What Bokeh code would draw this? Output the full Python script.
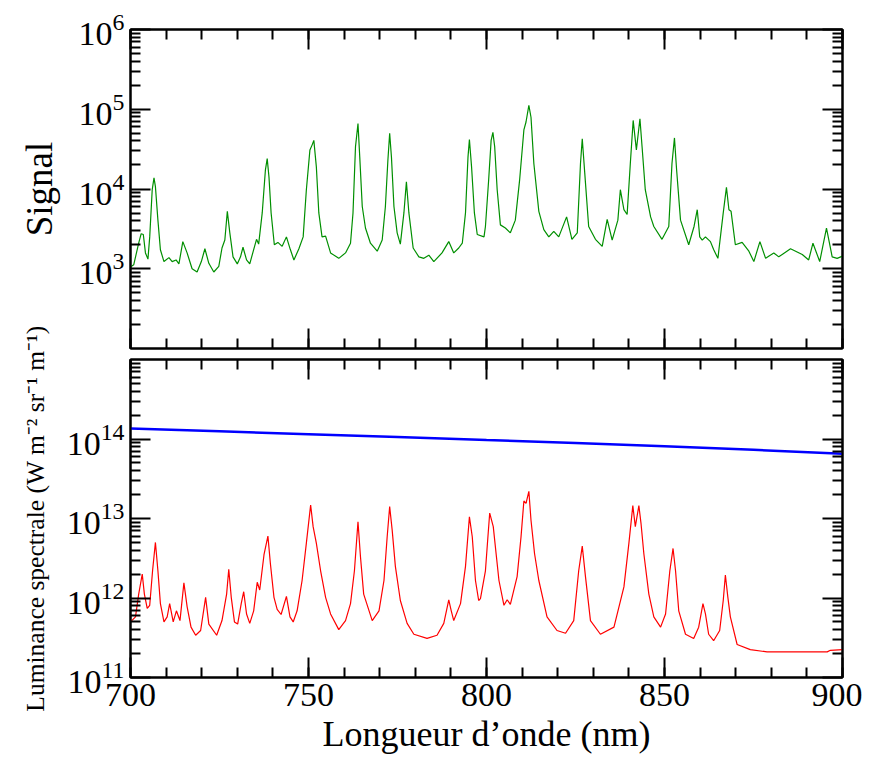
import math
from bokeh.plotting import figure
from bokeh.models import (Range1d, LinearAxis, FixedTicker,
                          SingleIntervalTicker, Label)
from bokeh.layouts import column, row
from bokeh.embed import file_html
from bokeh.resources import INLINE

# ---------------- data ----------------
sig_nm = [700.0, 700.9, 702.3, 703.0, 703.6, 704.2, 704.9, 705.4, 706.1, 706.6,
          707.0, 707.7, 708.4, 709.4, 710.8, 711.7, 712.8, 713.6, 714.7, 715.9,
          717.3, 718.7, 719.9, 720.9, 722.0, 723.4, 724.8, 725.7, 726.5, 727.2,
          727.9, 728.8, 730.0, 730.9, 731.6, 732.6, 733.5, 734.6, 735.4, 736.0,
          737.0, 737.9, 738.4, 738.9, 739.5, 740.4, 741.4, 742.6, 743.8, 744.9,
          745.9, 747.3, 748.5, 749.4, 750.4, 751.0, 751.5, 752.2, 752.9, 753.8,
          754.8, 756.2, 758.5, 760.4, 761.8, 762.5, 763.2, 763.9, 764.4, 765.1,
          766.0, 767.4, 769.3, 770.7, 771.6, 772.3, 772.8, 773.3, 774.0, 774.9,
          775.8, 776.8, 777.5, 778.2, 779.4, 781.0, 782.4, 783.8, 785.2, 787.5,
          789.4, 790.8, 792.2, 793.2, 794.1, 794.8, 795.2, 795.8, 796.6, 797.4,
          799.3, 799.7, 800.6, 801.3, 801.8, 802.3, 803.0, 803.9, 805.3, 806.7,
          808.1, 809.3, 810.5, 811.1, 811.9, 812.5, 813.3, 814.7, 816.1, 817.5,
          818.9, 820.3, 822.5, 824.0, 825.5, 826.4, 826.9, 827.6, 828.7, 830.6,
          832.5, 833.9, 835.3, 836.9, 837.6, 838.6, 839.5, 840.4, 841.2, 842.1,
          843.1, 843.7, 844.6, 846.1, 847.0, 849.3, 851.2, 852.1, 852.8, 853.4,
          854.5, 856.8, 858.3, 859.2, 859.9, 860.6, 861.5, 862.9, 863.8, 865.0,
          866.5, 867.4, 868.1, 868.7, 869.9, 871.8, 873.7, 875.1, 876.8, 878.4,
          880.7, 882.1, 885.4, 888.7, 890.5, 891.7, 893.6, 895.5, 897.1, 898.5,
          900.0]
sig_val = [1050, 1120, 2090, 2750, 2690, 1580, 1320, 2510, 9800, 13800,
           10700, 4070, 1730, 1230, 1380, 1230, 1290, 1150, 2190, 1580,
           1000, 910, 1230, 1780, 1170, 910, 1070, 1820, 2290, 5250,
           2820, 1410, 1150, 1410, 1860, 1290, 1150, 1740, 2340, 2040,
           5010, 17400, 24000, 14100, 5010, 2000, 2140, 1910, 2510, 1740,
           1290, 1780, 2510, 9800, 30900, 35500, 40700, 19100, 5010, 2510,
           2570, 1580, 1350, 1580, 2090, 5010, 33900, 66100, 25100, 6030,
           3240, 2090, 1660, 2290, 6030, 22900, 50100, 25100, 6030, 2820,
           2040, 5010, 12300, 5010, 1820, 1410, 1350, 1480, 1230, 1580,
           2190, 1580, 1820, 2090, 5010, 25100, 41700, 19100, 5010, 2690,
           2510, 3390, 12900, 40700, 51300, 33900, 9800, 3550, 3240, 2820,
           4070, 12900, 55000, 69200, 112000, 79400, 20900, 5250, 3090, 2510,
           2950, 2510, 4470, 2340, 2820, 20900, 42700, 15800, 3390, 2340,
           1910, 4170, 2290, 4070, 9800, 5500, 4790, 20900, 72400, 30900,
           75900, 33900, 9800, 4470, 3390, 2340, 3390, 20900, 43700, 17400,
           4070, 2000, 3390, 5500, 2510, 2290, 2510, 2190, 1740, 1350,
           5010, 10500, 5500, 5250, 2000, 2140, 1660, 1230, 2190, 1350,
           1580, 1410, 1780, 1510, 1290, 2090, 1230, 3240, 1410, 1350,
           1440]

lum_nm = [700.0, 701.4, 702.3, 703.3, 703.9, 704.7, 705.4, 706.2, 707.0, 707.7,
          708.4, 709.4, 710.3, 711.0, 712.0, 712.9, 713.9, 715.0, 715.9, 717.0,
          718.3, 719.7, 721.1, 722.0, 724.2, 725.7, 727.0, 727.6, 728.3, 729.2,
          730.1, 731.1, 731.8, 732.6, 733.5, 734.6, 735.6, 736.3, 737.5, 738.6,
          739.3, 740.3, 741.2, 742.3, 743.8, 744.8, 745.7, 746.8, 748.2, 749.4,
          750.6, 751.3, 752.2, 753.4, 754.8, 756.2, 758.5, 760.4, 761.8, 762.9,
          763.9, 764.6, 765.5, 767.9, 769.8, 771.2, 772.1, 772.8, 773.5, 774.4,
          775.8, 777.7, 779.6, 783.3, 786.1, 788.0, 789.4, 790.1, 790.8, 792.7,
          794.1, 795.2, 796.0, 796.9, 797.8, 798.3, 799.7, 800.4, 800.9, 801.9,
          802.7, 803.5, 804.9, 805.8, 806.7, 808.6, 809.7, 810.5, 811.1, 811.9,
          812.5, 813.5, 814.7, 817.0, 819.8, 822.2, 824.5, 825.9, 826.9, 827.8,
          829.2, 832.0, 835.8, 838.6, 840.0, 841.1, 841.8, 842.8, 843.4, 844.2,
          845.6, 847.0, 848.9, 850.3, 851.5, 852.4, 853.1, 854.0, 855.9, 858.2,
          859.6, 860.8, 861.5, 862.4, 863.8, 865.5, 866.5, 867.1, 867.8, 868.5,
          870.4, 874.1, 878.8, 895.7, 896.6, 900.0]
lum_val = [5.0e11, 5.8e11, 1.12e12, 2.0e12, 1.12e12, 7.4e11, 8.1e11, 2.2e12, 5.0e12, 2.2e12,
           8.5e11, 5.0e11, 5.8e11, 8.5e11, 5.0e11, 6.9e11, 5.2e11, 1.55e12, 7.8e11, 4.3e11,
           3.4e11, 3.9e11, 1.02e12, 4.7e11, 3.4e11, 5.2e11, 1.12e12, 2.3e12, 1.02e12, 5.0e11,
           4.7e11, 8.5e11, 1.2e12, 6.3e11, 4.8e11, 6.9e11, 1.58e12, 1.26e12, 3.5e12, 6.0e12,
           2.7e12, 1.02e12, 7.2e11, 6.2e11, 1.05e12, 5.8e11, 5.0e11, 6.9e11, 1.66e12, 4.9e12,
           1.48e13, 7.9e12, 4.9e12, 2.2e12, 1.02e12, 6.3e11, 4.0e11, 5.2e11, 8.5e11, 2.2e12,
           9.1e12, 3.3e12, 1.12e12, 5.2e11, 6.9e11, 1.66e12, 5.9e12, 1.41e13, 7.2e12, 2.5e12,
           9.3e11, 4.8e11, 3.5e11, 3.1e11, 3.4e11, 4.8e11, 9.5e11, 6.9e11, 5.2e11, 8.5e11,
           2.5e12, 1.05e13, 5.9e12, 1.66e12, 9.3e11, 9.8e11, 2.2e12, 5.9e12, 1.17e13, 7.9e12,
           3.6e12, 1.66e12, 8.1e11, 9.5e11, 8.3e11, 1.86e12, 5.9e12, 1.66e13, 1.55e13, 2.2e13,
           9.5e12, 3.6e12, 1.66e12, 5.8e11, 3.9e11, 3.6e11, 5.2e11, 2.2e12, 4.5e12, 1.86e12,
           5.2e11, 3.5e11, 4.3e11, 1.38e12, 4.9e12, 1.45e13, 7.9e12, 1.45e13, 8.7e12, 3.6e12,
           1.12e12, 5.8e11, 4.3e11, 6.3e11, 2.2e12, 4.2e12, 2.2e12, 6.9e11, 3.5e11, 3.1e11,
           4.3e11, 8.5e11, 6.3e11, 3.5e11, 2.9e11, 3.9e11, 9.3e11, 1.95e12, 1.02e12, 5.8e11,
           2.6e11, 2.24e11, 2.1e11, 2.1e11, 2.2e11, 2.24e11]

bb_nm = [700, 725, 750, 775, 800, 825, 850, 875, 900]
bb_val = [1.36e14, 1.25e14, 1.15e14, 1.06e14, 9.7e13, 8.9e13, 8.1e13, 7.3e13, 6.5e13]

x_major = 50
x_minor_per_major = 5
sig_decades = [1e3, 1e4, 1e5, 1e6]
lum_decades = [1e11, 1e12, 1e13, 1e14]

x_title = "Longueur d\u2019onde (nm)"
sig_title = "Signal"
lum_title = "Luminance spectrale (W m\u207b\u00b2 sr\u207b\u00b9 m\u207b\u00b9)"

# ---------------- styling ----------------
FONT = "Liberation Serif"
FW = 712
LAB_W = 62
LEFT = 130 - LAB_W


def minor_list(decades):
    out = []
    d = decades[0] / 10
    while d < decades[-1] * 10:
        out += [m * d for m in range(2, 10)]
        d *= 10
    return out


def style(ax, show, size="34px"):
    ax.axis_line_width = 2
    ax.axis_line_color = "black"
    ax.major_tick_in = 20
    ax.major_tick_out = 0
    ax.minor_tick_in = 10
    ax.minor_tick_out = 0
    ax.major_tick_line_width = 2
    ax.minor_tick_line_width = 2
    ax.major_tick_line_color = "black"
    ax.minor_tick_line_color = "black"
    ax.major_label_text_font = FONT
    if show:
        ax.major_label_text_color = "black"
        ax.major_label_text_font_size = size
        ax.major_label_standoff = 6
    else:
        ax.major_label_text_color = None
        ax.major_label_text_font_size = "1px"
        ax.major_label_standoff = 0


def make_panel(frame_h, y_lo, y_hi, decades, top_border, bottom_border, show_x):
    p = figure(frame_width=FW, frame_height=frame_h, x_range=xr,
               y_range=Range1d(y_lo, y_hi), y_axis_type="log",
               output_backend="svg", toolbar_location=None,
               min_border_left=LEFT, min_border_right=20,
               min_border_top=top_border, min_border_bottom=bottom_border,
               background_fill_color="white", border_fill_color="white")
    p.grid.visible = False
    p.outline_line_color = "black"
    p.outline_line_width = 2
    p.xaxis.ticker = SingleIntervalTicker(interval=x_major, num_minor_ticks=x_minor_per_major)
    p.yaxis.ticker = FixedTicker(ticks=decades, minor_ticks=minor_list(decades))
    style(p.xaxis[0], show_x)
    style(p.yaxis[0], True)
    up = LinearAxis(ticker=SingleIntervalTicker(interval=x_major, num_minor_ticks=x_minor_per_major))
    style(up, False)
    p.add_layout(up, "above")
    rt = LinearAxis(ticker=FixedTicker(ticks=decades, minor_ticks=minor_list(decades)))
    style(rt, False)
    p.add_layout(rt, "right")
    return p


xr = Range1d(700, 900)

top = make_panel(319, 1e2, 1e6, sig_decades, 29, 5, False)
top.line(sig_nm, sig_val, line_color="#008f00", line_width=1.2)

bot = make_panel(318, 1e11, 1e15, lum_decades, 6, 70, True)
xa = bot.below[0]
xa.axis_label = x_title
xa.axis_label_text_font = FONT
xa.axis_label_text_font_size = "36px"
xa.axis_label_text_font_style = "normal"
xa.axis_label_standoff = 5
xa.axis_label_text_color = "black"
bot.line(bb_nm, bb_val, line_color="#0000ff", line_width=2.5)
bot.line(lum_nm, lum_val, line_color="#ff0000", line_width=1.2)

H = 758
lab = figure(width=LAB_W, height=H, x_range=Range1d(0, LAB_W), y_range=Range1d(0, H),
             output_backend="svg", toolbar_location=None, min_border=0,
             x_axis_location=None, y_axis_location=None, title=None)
lab.grid.visible = False
lab.outline_line_color = None
lab.add_layout(Label(x=39, y=H - 188.5, text=sig_title, angle=math.pi / 2,
                     text_align="center", text_baseline="middle",
                     text_font=FONT, text_font_size="37px", text_color="black"))
lab.add_layout(Label(x=35, y=H - 518, text=lum_title, angle=math.pi / 2,
                     text_align="center", text_baseline="middle",
                     text_font=FONT, text_font_size="25.5px", text_color="black"))

layout = row(lab, column(top, bot))
open("out.html", "w").write(file_html(layout, INLINE))
